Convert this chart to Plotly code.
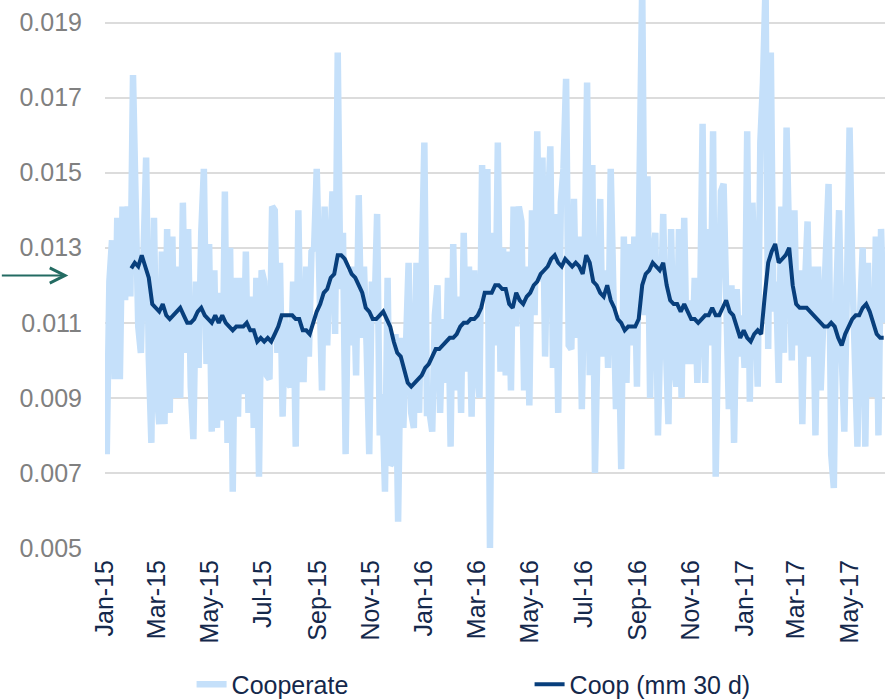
import pandas as pd
import plotly.graph_objects as go

# daily-ish series, one reading every 3 days from 2015-01-03
coop_start = "2015-01-03"
coop_vals = [
    # Jan - Jun 2015
    0.0075, 0.0121, 0.0132, 0.0095, 0.0138, 0.0095, 0.0141, 0.0116, 0.0141, 0.0117,
    0.0176, 0.0129, 0.0109, 0.0102, 0.0122, 0.0154, 0.0101, 0.0078, 0.0138, 0.0092,
    0.0083, 0.0129, 0.0083, 0.0135, 0.0086, 0.0133, 0.0090, 0.0125, 0.0090, 0.0142,
    0.0102, 0.0135, 0.0093, 0.0079, 0.0121, 0.0098, 0.0134, 0.0151, 0.0099, 0.0131,
    0.0081, 0.0124, 0.0082, 0.0118, 0.0084, 0.0145, 0.0078, 0.0130, 0.0065, 0.0122,
    0.0085, 0.0122, 0.0091, 0.0129, 0.0086, 0.0117, 0.0082, 0.0122, 0.0069,
    # Jul - Dec 2015
    0.0124, 0.0121, 0.0096, 0.0095, 0.0141, 0.0140, 0.0102, 0.0126, 0.0085, 0.0112,
    0.0094, 0.0093, 0.0121, 0.0077, 0.0140, 0.0095, 0.0095, 0.0125, 0.0101, 0.0129,
    0.0130, 0.0151, 0.0111, 0.0092, 0.0141, 0.0104, 0.0127, 0.0145, 0.0107, 0.0182,
    0.0119, 0.0134, 0.0075, 0.0124, 0.0104, 0.0125, 0.0096, 0.0144, 0.0106, 0.0125,
    0.0104, 0.0075, 0.0121, 0.0112, 0.0139, 0.0080, 0.0091, 0.0065, 0.0122, 0.0072,
    0.0073, 0.0107, 0.0057, 0.0106, 0.0082, 0.0106, 0.0126, 0.0086,
    # Dec 2015 - Jun 2016
    0.0082, 0.0126, 0.0086, 0.0124, 0.0158, 0.0086, 0.0086, 0.0081, 0.0112, 0.0120,
    0.0086, 0.0111, 0.0094, 0.0122, 0.0077, 0.0131, 0.0092, 0.0117, 0.0086, 0.0134,
    0.0097, 0.0125, 0.0085, 0.0124, 0.0099, 0.0090, 0.0152, 0.0118, 0.0151, 0.0050,
    0.0134, 0.0104, 0.0158, 0.0097, 0.0130, 0.0096, 0.0129, 0.0092, 0.0141, 0.0109,
    0.0141, 0.0137, 0.0092, 0.0125, 0.0088, 0.0140, 0.0112, 0.0161, 0.0121, 0.0154,
    0.0101, 0.0138, 0.0157, 0.0098, 0.0139, 0.0086, 0.0142, 0.0151, 0.0175, 0.0104,
    # Jun - Dec 2016
    0.0103, 0.0143, 0.0106, 0.0133, 0.0087, 0.0123, 0.0174, 0.0096, 0.0152, 0.0070,
    0.0120, 0.0143, 0.0101, 0.0124, 0.0098, 0.0151, 0.0119, 0.0087, 0.0112, 0.0071,
    0.0133, 0.0094, 0.0131, 0.0104, 0.0133, 0.0093, 0.0149, 0.0200, 0.0112, 0.0149,
    0.0090, 0.0127, 0.0134, 0.0080, 0.0110, 0.0139, 0.0104, 0.0083, 0.0135, 0.0100,
    0.0093, 0.0135, 0.0090, 0.0138, 0.0099, 0.0116, 0.0099, 0.0122, 0.0094, 0.0111,
    0.0163, 0.0094, 0.0135, 0.0104, 0.0161, 0.0069, 0.0110, 0.0145, 0.0147,
    # Dec 2016 - Jun 2017
    0.0106, 0.0087, 0.0120, 0.0078, 0.0119, 0.0101, 0.0112, 0.0098, 0.0161, 0.0089,
    0.0142, 0.0118, 0.0093, 0.0158, 0.0174, 0.0200, 0.0103, 0.0182, 0.0113, 0.0121,
    0.0094, 0.0141, 0.0102, 0.0162, 0.0122, 0.0100, 0.0140, 0.0104, 0.0124, 0.0083,
    0.0120, 0.0137, 0.0101, 0.0125, 0.0080, 0.0125, 0.0092, 0.0114, 0.0128, 0.0147,
    0.0075, 0.0066, 0.0119, 0.0140, 0.0102, 0.0081, 0.0119, 0.0162, 0.0125, 0.0092,
    0.0077, 0.0112, 0.0130, 0.0077, 0.0126, 0.0091, 0.0091, 0.0133, 0.0080, 0.0135,
    0.0110,
]

# 30-day moving average, read every 4 days from 2015-01-31
mm_start = "2015-01-31"
mm_vals = [
    0.01245, 0.0126, 0.0125, 0.0128, 0.0125, 0.0122, 0.0115, 0.0114, 0.0113, 0.0115,
    0.0112, 0.0111, 0.0112, 0.0113, 0.0114, 0.0112, 0.0110, 0.0110, 0.0111, 0.0113,
    0.0114, 0.0112, 0.0111, 0.0110, 0.0112, 0.0110, 0.0112, 0.0110, 0.0109, 0.0108,
    0.0109, 0.0109, 0.0109, 0.0110, 0.0108, 0.0108, 0.0105, 0.0106, 0.0105, 0.0106,
    0.0105, 0.0107, 0.0109, 0.0112, 0.0112, 0.0112, 0.0112, 0.0111, 0.0111, 0.0108,
    0.0108, 0.0107, 0.0110, 0.0113, 0.0115, 0.0118, 0.0119, 0.0122, 0.0123, 0.0128,
    0.0128, 0.0127, 0.0125, 0.0123, 0.0122, 0.0120, 0.0118, 0.0114, 0.0113, 0.0111,
    0.0111, 0.0112, 0.0113, 0.0111, 0.0109, 0.0105, 0.0102, 0.0101, 0.0097, 0.0094,
    0.0093, 0.0094, 0.0095, 0.0096, 0.0098, 0.0099, 0.0101, 0.0103, 0.0103, 0.0104,
    0.0105, 0.0106, 0.0106, 0.0107, 0.0109, 0.0110, 0.0110, 0.0111, 0.0111, 0.0112,
    0.0114, 0.0118, 0.0118, 0.0118, 0.0120, 0.0120, 0.0119, 0.0119, 0.0115, 0.0114,
    0.0118, 0.0116, 0.0115, 0.0117, 0.0118, 0.0120, 0.0121, 0.0123, 0.0124, 0.0125,
    0.0127, 0.0128, 0.0126, 0.0125, 0.0127, 0.0126, 0.0125, 0.0126, 0.0125, 0.0123,
    0.0128, 0.0126, 0.0121, 0.0120, 0.0118, 0.0117, 0.0120, 0.0116, 0.0114, 0.0111,
    0.0110, 0.0108, 0.0109, 0.0109, 0.0109, 0.0111, 0.0120, 0.0123, 0.0124, 0.0126,
    0.0125, 0.0124, 0.0126, 0.0120, 0.0116, 0.0115, 0.0115, 0.0113, 0.0115, 0.0113,
    0.0111, 0.0111, 0.0110, 0.0111, 0.0112, 0.0112, 0.0114, 0.0112, 0.0112, 0.0114,
    0.0116, 0.0113, 0.0112, 0.0109, 0.0106, 0.0108, 0.0106, 0.0105, 0.0107, 0.0108,
    0.0107, 0.0117, 0.0126, 0.0129, 0.0131, 0.0126, 0.0127, 0.0128, 0.0130, 0.0120,
    0.0115, 0.0114, 0.0114, 0.0114, 0.0113, 0.0112, 0.0111, 0.0110, 0.0109, 0.0109,
    0.0110, 0.0109, 0.0106, 0.0104, 0.0107, 0.0109, 0.0111, 0.0112, 0.0112, 0.0114,
    0.0115, 0.0113, 0.0110, 0.0107, 0.0106, 0.0106,
]

y_ticks = [0.005, 0.007, 0.009, 0.011, 0.013, 0.015, 0.017, 0.019]
arrow_level = 0.01226

coop_dates = pd.date_range(coop_start, periods=len(coop_vals), freq="3D")
mm_dates = pd.date_range(mm_start, periods=len(mm_vals), freq="4D")

FONT = "Liberation Sans, Arial, sans-serif"
NAVY_TXT = "#14284b"

fig = go.Figure()
fig.add_trace(go.Scatter(
    x=coop_dates, y=coop_vals, mode="lines", name="Cooperate",
    line=dict(color="#c5e0fa", width=6.5),
))
fig.add_trace(go.Scatter(
    x=mm_dates, y=mm_vals, mode="lines", name="Coop (mm 30 d)",
    line=dict(color="#083f7c", width=4),
))

fig.update_xaxes(
    range=["2015-01-01", "2017-06-10 12:00"],
    tick0="2015-01-01", dtick="M2", tickformat="%b-%y",
    tickangle=-90, ticks="", showgrid=False, showline=False, zeroline=False,
    tickfont=dict(family=FONT, size=25, color=NAVY_TXT),
    ticklabelstandoff=6,
)
fig.update_yaxes(
    range=[0.005, 0.0196],
    tickvals=y_ticks, tickformat=".3f",
    showgrid=True, gridcolor="#dcdcdc", gridwidth=1.5,
    showline=False, zeroline=False, ticks="",
    tickfont=dict(family=FONT, size=25, color="#808080"),
    ticklabelstandoff=22,
)

# arrow pointing at the chart from the left margin
fig.add_annotation(
    x=-0.047, xref="paper", y=arrow_level, yref="y",
    ax=-68, ay=0, text="", showarrow=True,
    arrowhead=5, arrowsize=1.5, arrowwidth=2, arrowcolor="#236b62",
)

fig.update_layout(
    width=885, height=699,
    margin=dict(l=105, r=0, t=0, b=151, autoexpand=False),
    paper_bgcolor="white", plot_bgcolor="white",
    showlegend=True,
    legend=dict(
        orientation="h", x=0.111, xanchor="left", y=-0.207, yanchor="top",
        font=dict(family=FONT, size=25, color=NAVY_TXT),
        entrywidth=293, entrywidthmode="pixels",
        bgcolor="rgba(0,0,0,0)",
    ),
    hovermode=False,
)

fig.write_html(
    "out.html",
    config={"displayModeBar": False},
    post_script="document.body.style.margin='0';",
)
